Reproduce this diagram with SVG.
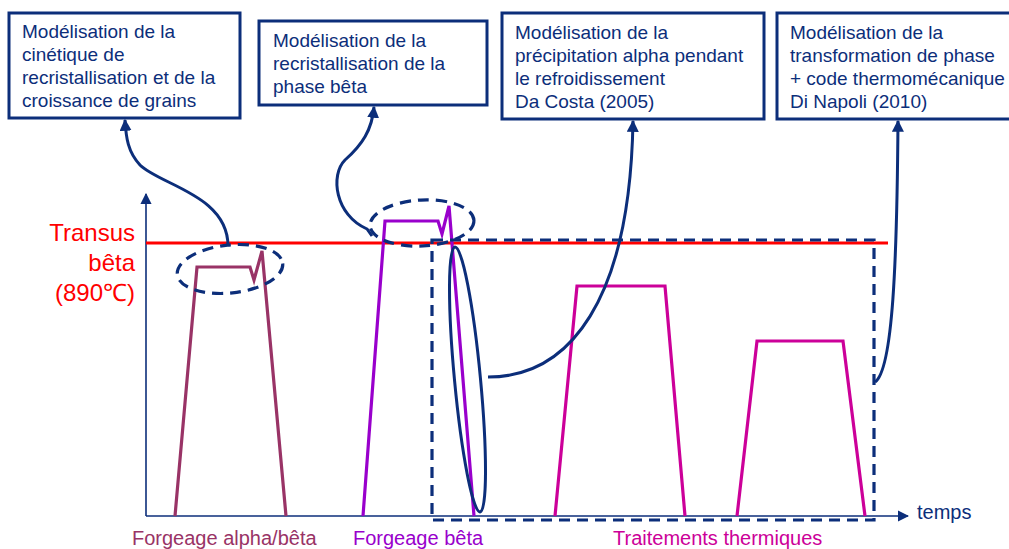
<svg xmlns="http://www.w3.org/2000/svg" width="1009" height="549" viewBox="0 0 1009 549">
<style>
.box{fill:#fff;stroke:#0c2e7a;stroke-width:3}
.bt{font-family:"Liberation Sans",Arial,sans-serif;font-size:19px;fill:#0c2e7a}
.red{font-family:"Liberation Sans",Arial,sans-serif;font-size:24px;fill:#ff0000;text-anchor:end}
.lbl{font-family:"Liberation Sans",Arial,sans-serif;font-size:20px}
.conn{fill:none;stroke:#0c2e7a;stroke-width:3}
.dash{fill:none;stroke:#0c2e7a;stroke-width:3.2;stroke-dasharray:11 7}
.curve{fill:none;stroke-width:3.2;stroke-linejoin:miter}
</style>
<defs>
<marker id="ah" viewBox="0 0 10 10" refX="9" refY="5" markerWidth="4" markerHeight="4" orient="auto-start-reverse" markerUnits="strokeWidth">
<path d="M0,0 L10,5 L0,10 z" fill="#0c2e7a"/>
</marker>
<marker id="axh" viewBox="0 0 10 10" refX="9" refY="5" markerWidth="7" markerHeight="7" orient="auto" markerUnits="strokeWidth">
<path d="M0,0 L10,5 L0,10 z" fill="#0c2e7a"/>
</marker>
</defs>
<rect width="1009" height="549" fill="#fff"/>

<!-- axes -->
<line x1="146" y1="516" x2="146" y2="194" stroke="#0c2e7a" stroke-width="1.6" marker-end="url(#axh)"/>
<line x1="146" y1="516" x2="908" y2="516" stroke="#0c2e7a" stroke-width="1.6" marker-end="url(#axh)"/>
<text class="lbl" x="917" y="519" fill="#0c2e7a">temps</text>

<!-- transus line -->
<line x1="146" y1="243" x2="888" y2="243" stroke="#ff0000" stroke-width="3"/>
<text class="red" x="135" y="241">Transus</text>
<text class="red" x="135" y="271">bêta</text>
<text class="red" x="135" y="301">(890℃)</text>

<!-- curves -->
<path class="curve" stroke="#993366" d="M175,516 L197,267 L250,267 L254,280 L262,251 L286,516"/>
<path class="curve" stroke="#9900cc" d="M363,516 L385,221 L438,221 L442,234 L449,206 L474,516"/>
<path class="curve" stroke="#cc0099" d="M555,516 L577,286 L665,286 L685,516"/>
<path class="curve" stroke="#cc0099" d="M737,516 L757,341 L843,341 L865,516"/>

<!-- highlight shapes -->
<ellipse class="dash" cx="230" cy="269" rx="53" ry="24" transform="rotate(-6 230 269)"/>
<ellipse class="dash" cx="422" cy="223" rx="52" ry="23" transform="rotate(-3 422 223)"/>
<rect class="dash" x="432" y="240" width="442" height="280"/>
<ellipse fill="none" stroke="#0c2e7a" stroke-width="3" cx="467.5" cy="379.5" rx="133" ry="13" transform="rotate(84.6 467.5 379.5)"/>

<!-- nodes -->
<g id="box1">
<rect class="box" x="9" y="13" width="231" height="105"/>
<text class="bt" x="22" y="38">Modélisation de la</text>
<text class="bt" x="22" y="61">cinétique de</text>
<text class="bt" x="22" y="84">recristallisation et de la</text>
<text class="bt" x="22" y="107">croissance de grains</text>
</g>
<g id="box2">
<rect class="box" x="259" y="21" width="228" height="84"/>
<text class="bt" x="273" y="47">Modélisation de la</text>
<text class="bt" x="273" y="70">recristallisation de la</text>
<text class="bt" x="273" y="93">phase bêta</text>
</g>
<g id="box3">
<rect class="box" x="502" y="13" width="262" height="106"/>
<text class="bt" x="515" y="39">Modélisation de la</text>
<text class="bt" x="515" y="62">précipitation alpha pendant</text>
<text class="bt" x="515" y="85">le refroidissement</text>
<text class="bt" x="515" y="108">Da Costa (2005)</text>
</g>
<g id="box4">
<rect class="box" x="777" y="13" width="240" height="106"/>
<text class="bt" x="790" y="39">Modélisation de la</text>
<text class="bt" x="790" y="62">transformation de phase</text>
<text class="bt" x="790" y="85">+ code thermomécanique</text>
<text class="bt" x="790" y="108">Di Napoli (2010)</text>
</g>

<!-- connectors -->
<g id="connectors">
<path class="conn" marker-end="url(#ah)" d="M228,246 C228,195 160,185 140,165 C128,152 126,138 125,120"/>
<path class="conn" marker-end="url(#ah)" d="M372,236 L367,229 C335,215 330,175 345,160 C362,145 372,130 374,107"/>
<path class="conn" marker-end="url(#ah)" d="M488,377 C570,377 630,300 633,121"/>
<path class="conn" marker-end="url(#ah)" d="M875,382 C893,370 897,260 898,121"/>
</g>

<!-- bottom labels -->
<text class="lbl" x="132" y="545" fill="#993366">Forgeage alpha/bêta</text>
<text class="lbl" x="353" y="545" fill="#9900cc">Forgeage bêta</text>
<text class="lbl" x="613" y="545" fill="#cc0099">Traitements thermiques</text>
</svg>
